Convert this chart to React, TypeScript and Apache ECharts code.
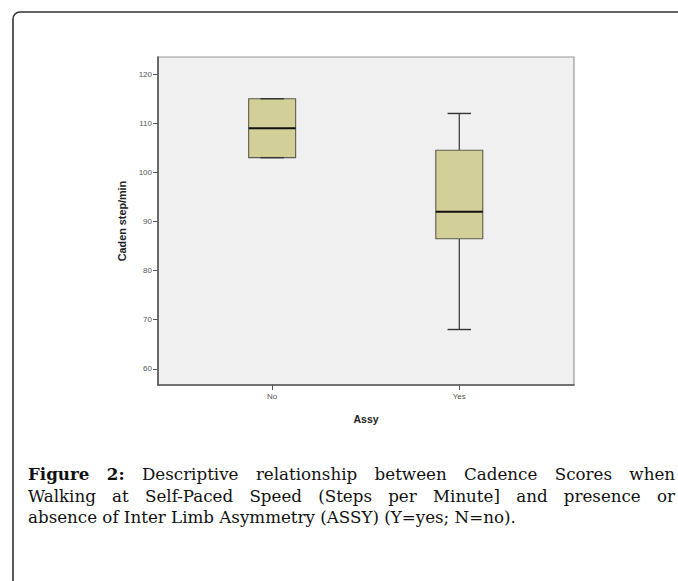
import React, { useEffect, useRef } from "react";
import * as echarts from "echarts";

const categories = ["No", "Yes"];
const categoryPos = [1, 2];
const whiskerLow = [103, 68];
const q1 = [103, 86.5];
const median = [109, 92];
const q3 = [115, 104.5];
const whiskerHigh = [115, 112];
const yTicks = [60, 70, 80, 90, 100, 110, 120];

const yTitle = "Caden step/min";
const xTitle = "Assy";

const captionLines = [
  { bold: "Figure 2:", text: "Descriptive relationship between Cadence Scores when", justify: true },
  { bold: "", text: "Walking at Self-Paced Speed (Steps per Minute] and presence or", justify: true },
  { bold: "", text: "absence of Inter Limb Asymmetry (ASSY) (Y=yes; N=no).", justify: false },
];

const CAP_FONT = "DejaVu Serif";
const CAP_SIZE = 16.7;
const CAP_X0 = 28;
const CAP_X1 = 675;
const CAP_BASE = [479.5, 501, 522.5];

function buildCaption(): any[] {
  const canvas = document.createElement("canvas");
  const ctx = canvas.getContext("2d") as CanvasRenderingContext2D;
  const measure = (t: string, b: boolean) => {
    ctx.font = `${b ? "bold " : ""}${CAP_SIZE}px "${CAP_FONT}"`;
    return ctx.measureText(t).width;
  };
  const out: any[] = [];
  captionLines.forEach((line, i) => {
    const words: { t: string; b: boolean }[] = [];
    if (line.bold) line.bold.split(" ").forEach((w) => words.push({ t: w, b: true }));
    line.text.split(" ").forEach((w) => words.push({ t: w, b: false }));
    const widths = words.map((w) => measure(w.t, w.b));
    const total = widths.reduce((a, c) => a + c, 0);
    const gap = line.justify ? (CAP_X1 - CAP_X0 - total) / (words.length - 1) : measure(" ", false);
    let x = CAP_X0;
    const y = CAP_BASE[i] - CAP_SIZE * 0.32;
    words.forEach((w, k) => {
      out.push({
        type: "text",
        x,
        y,
        style: {
          text: w.t,
          fontFamily: CAP_FONT,
          fontSize: CAP_SIZE,
          fontWeight: w.b ? "bold" : "normal",
          fill: "#111",
          verticalAlign: "middle",
          align: "left",
        },
      });
      x += widths[k] + gap;
    });
  });
  return out;
}

export default function App() {
  const ref = useRef<HTMLDivElement>(null);
  useEffect(() => {
    if (!ref.current) return;
    const chart = echarts.init(ref.current, null, { renderer: "svg" });
    const data = categoryPos.map((p, i) => [p, whiskerLow[i], q1[i], median[i], q3[i], whiskerHigh[i]]);
    const option: any = {
      animation: false,
      backgroundColor: "#ffffff",
      grid: {
        left: 158,
        top: 57,
        width: 416,
        height: 328,
        show: true,
        backgroundColor: "#F0F0F0",
        borderColor: "#9a9a9a",
        borderWidth: 1.2,
      },
      xAxis: {
        type: "value",
        min: 0.39,
        max: 2.613,
        name: xTitle,
        nameLocation: "middle",
        nameGap: 28,
        nameTextStyle: { fontFamily: "Arial, Liberation Sans", fontWeight: "bold", fontSize: 10.5, color: "#222" },
        axisLine: { show: true, lineStyle: { color: "#555", width: 1.6 } },
        axisTick: { show: true, customValues: categoryPos, length: 5, lineStyle: { color: "#555", width: 1 } },
        axisLabel: {
          customValues: categoryPos,
          formatter: (v: number) => categories[Math.round(v) - 1] ?? "",
          fontFamily: "Arial, Liberation Sans",
          fontSize: 8,
          color: "#555",
          margin: 7,
        },
        splitLine: { show: false },
      },
      yAxis: {
        type: "value",
        min: 56.7,
        max: 123.5,
        name: yTitle,
        nameLocation: "middle",
        nameGap: 31,
        nameRotate: 90,
        nameTextStyle: { fontFamily: "Arial, Liberation Sans", fontWeight: "bold", fontSize: 10.8, color: "#222" },
        axisLine: { show: true, lineStyle: { color: "#555", width: 1.6 } },
        axisTick: { show: true, customValues: yTicks, length: 5, lineStyle: { color: "#555", width: 1 } },
        axisLabel: {
          customValues: yTicks,
          fontFamily: "Arial, Liberation Sans",
          fontSize: 8,
          color: "#555",
          margin: 6,
        },
        splitLine: { show: false },
      },
      series: [
        {
          type: "custom",
          data,
          encode: { x: 0, y: [1, 2, 3, 4, 5] },
          renderItem: (params: any, api: any) => {
            const x = api.value(0);
            const pLow = api.coord([x, api.value(1)]);
            const pQ1 = api.coord([x, api.value(2)]);
            const pMed = api.coord([x, api.value(3)]);
            const pQ3 = api.coord([x, api.value(4)]);
            const pHigh = api.coord([x, api.value(5)]);
            const half = api.size([0.251, 0])[0] / 2;
            const cap = half / 2;
            const cx = pMed[0];
            const wStyle = { stroke: "#333", lineWidth: 1.2 };
            return {
              type: "group",
              children: [
                { type: "line", shape: { x1: cx, y1: pLow[1], x2: cx, y2: pQ1[1] }, style: wStyle },
                { type: "line", shape: { x1: cx, y1: pQ3[1], x2: cx, y2: pHigh[1] }, style: wStyle },
                {
                  type: "rect",
                  shape: { x: cx - half, y: pQ3[1], width: half * 2, height: pQ1[1] - pQ3[1] },
                  style: { fill: "#D3CF98", stroke: "#5c5b4c", lineWidth: 1.1 },
                },
                { type: "line", shape: { x1: cx - cap, y1: pLow[1], x2: cx + cap, y2: pLow[1] }, style: { stroke: "#333", lineWidth: 1.4 } },
                { type: "line", shape: { x1: cx - cap, y1: pHigh[1], x2: cx + cap, y2: pHigh[1] }, style: { stroke: "#333", lineWidth: 1.4 } },
                { type: "line", shape: { x1: cx - half, y1: pMed[1], x2: cx + half, y2: pMed[1] }, style: { stroke: "#111", lineWidth: 2 } },
              ],
            };
          },
        },
      ],
      graphic: [
        {
          type: "rect",
          shape: { x: 13, y: 12, width: 720, height: 640, r: 7 },
          style: { fill: "none", stroke: "#333", lineWidth: 1.6 },
          silent: true,
        },
        ...buildCaption(),
      ],
    };
    chart.setOption(option);
    return () => chart.dispose();
  }, []);
  return <div ref={ref} style={{ position: "fixed", left: 0, top: 0, width: 678, height: 581 }} />;
}
